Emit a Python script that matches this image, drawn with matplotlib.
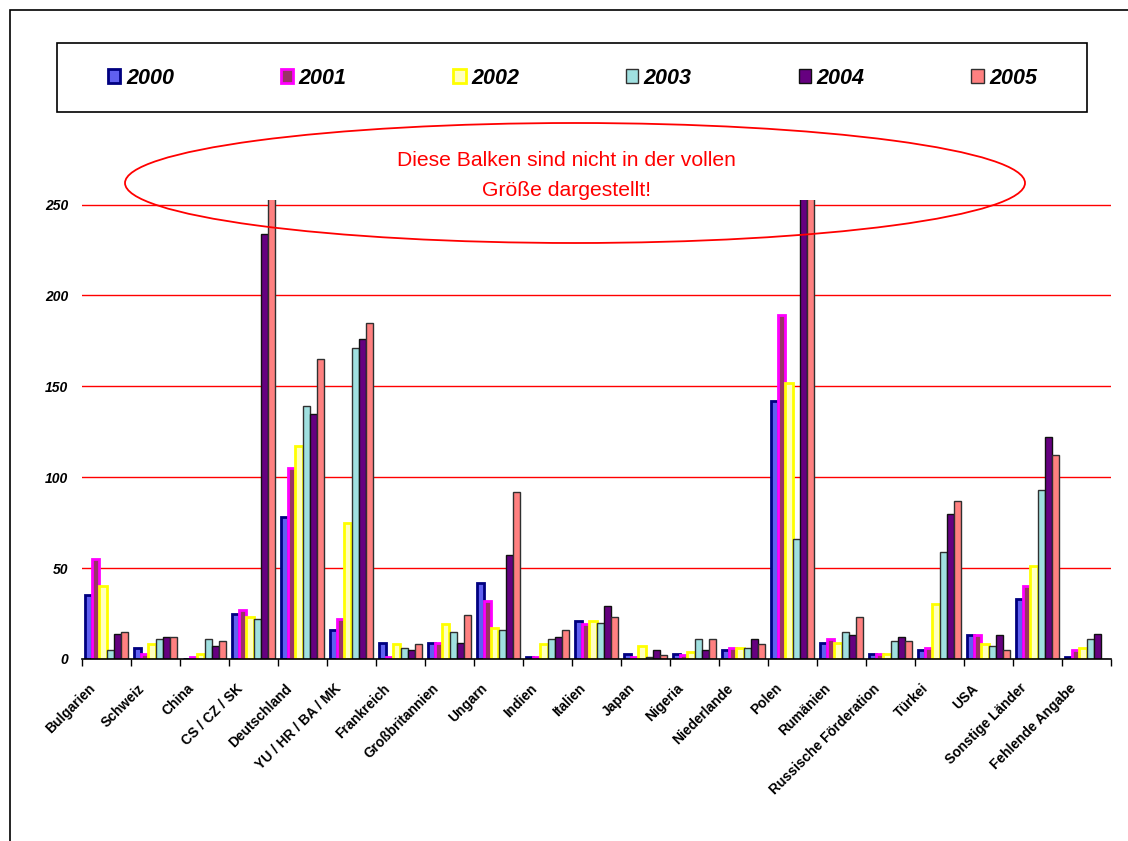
import matplotlib
matplotlib.use("Agg")
import matplotlib.pyplot as plt
import matplotlib.transforms as mtransforms
from matplotlib.patches import Patch, Ellipse, Rectangle
import numpy as np

plt.rcParams['font.family'] = ['Liberation Sans', 'DejaVu Sans']

categories = ["Bulgarien", "Schweiz", "China", "CS / CZ / SK", "Deutschland",
              "YU / HR / BA / MK", "Frankreich", "Großbritannien", "Ungarn", "Indien",
              "Italien", "Japan", "Nigeria", "Niederlande", "Polen", "Rumänien",
              "Russische Förderation", "Türkei", "USA", "Sonstige Länder", "Fehlende Angabe"]
years = ["2000", "2001", "2002", "2003", "2004", "2005"]

v2000 = [35, 6, 0, 25, 78, 16, 9, 9, 42, 1, 21, 3, 3, 5, 142, 9, 3, 5, 13, 33, 1]
v2001 = [55, 3, 1, 27, 105, 22, 1, 9, 32, 1, 19, 1, 2, 6, 189, 11, 3, 6, 13, 40, 5]
v2002 = [40, 8, 3, 23, 117, 75, 8, 19, 17, 8, 21, 7, 4, 6, 152, 9, 3, 30, 8, 51, 6]
v2003 = [5, 11, 11, 22, 139, 171, 6, 15, 16, 11, 20, 1, 11, 6, 66, 15, 10, 59, 7, 93, 11]
v2004 = [14, 12, 7, 234, 135, 176, 5, 9, 57, 12, 29, 5, 5, 11, 300, 13, 12, 80, 13, 122, 14]
v2005 = [15, 12, 10, 300, 165, 185, 8, 24, 92, 16, 23, 2, 11, 8, 300, 23, 10, 87, 5, 112, 0]
series = [v2000, v2001, v2002, v2003, v2004, v2005]

yticks = [0, 50, 100, 150, 200, 250]

faces = ['#6060F0', '#993366', '#FFFFC0', '#A0E0E0', '#660080', '#FF8080']
edges = ['#000080', '#FF00FF', '#FFFF00', '#303030', '#101010', '#303030']
lws = [2.0, 2.0, 2.0, 1.0, 1.0, 1.0]

W, H = 1128, 841
fig = plt.figure(figsize=(W / 100, H / 100), dpi=100)
fig.patch.set_facecolor('white')

ax = fig.add_axes([82 / W, 1 - 659 / H, (1111 - 82) / W, (659 - 200) / H])
x = np.arange(len(categories))
bw = 0.143
for i, vals in enumerate(series):
    ax.bar(x + (i - 2.5) * bw, vals, width=bw, facecolor=faces[i], edgecolor=edges[i],
           linewidth=lws[i], zorder=3, label=years[i])

ax.set_xlim(-0.5, len(categories) - 0.5)
ax.set_ylim(0, 252.5)
ax.set_yticks(yticks)
ax.set_yticklabels([str(t) for t in yticks], fontsize=10, fontweight='bold', fontstyle='italic')
for t in yticks[1:]:
    ax.axhline(t, color='#FF0000', linewidth=1.0, zorder=1)
ax.tick_params(axis='y', length=0, pad=10)

ax.set_xticks(x)
ax.set_xticklabels(categories, rotation=45, ha='right', fontsize=9.9, fontweight='bold')
ax.tick_params(axis='x', length=0, pad=16)
offset = mtransforms.ScaledTranslation(-8 / 100, 0, fig.dpi_scale_trans)
for lab in ax.get_xticklabels():
    lab.set_transform(lab.get_transform() + offset)
ax.set_xticks(np.arange(-0.5, len(categories), 1.0), minor=True)
ax.tick_params(axis='x', which='minor', length=5, width=1, direction='out', color='black')

for s in ['left', 'right', 'top']:
    ax.spines[s].set_visible(False)
ax.spines['bottom'].set_linewidth(1.2)
ax.spines['bottom'].set_zorder(4)

# legend
handles = [Patch(facecolor=faces[i], edgecolor=edges[i], linewidth=2.0 if i < 3 else 1.0,
                 label=years[i]) for i in range(6)]
leg = fig.legend(handles=handles, loc='center left', ncol=6, frameon=False,
                 bbox_to_anchor=(108 / W, 1 - 78 / H),
                 prop={'size': 15.5, 'weight': 'bold', 'style': 'italic'},
                 handlelength=0.58, handleheight=0.62, handletextpad=0.25,
                 columnspacing=4.96, borderpad=0, borderaxespad=0)
fig.add_artist(Rectangle((57 / W, 1 - 112 / H), (1087 - 57) / W, (112 - 43) / H,
                         transform=fig.transFigure, fill=False, edgecolor='black',
                         linewidth=1.2))

# outer frame
fig.add_artist(Rectangle((10 / W, -0.05), 1.2, 1 - 10 / H + 0.05,
                         transform=fig.transFigure, fill=False, edgecolor='black',
                         linewidth=1.2))

# ellipse annotation
fig.add_artist(Ellipse((575 / W, 1 - 183 / H), 900 / W, 120 / H,
                       transform=fig.transFigure, fill=False, edgecolor='#FF0000',
                       linewidth=1.3, zorder=10))
fig.text(566.5 / W, 1 - 175.5 / H, "Diese Balken sind nicht in der vollen\nGröße dargestellt!",
         ha='center', va='center', color='#FF0000', fontsize=15.2, linespacing=1.7,
         zorder=11)

fig.savefig('out.png', dpi=100)
